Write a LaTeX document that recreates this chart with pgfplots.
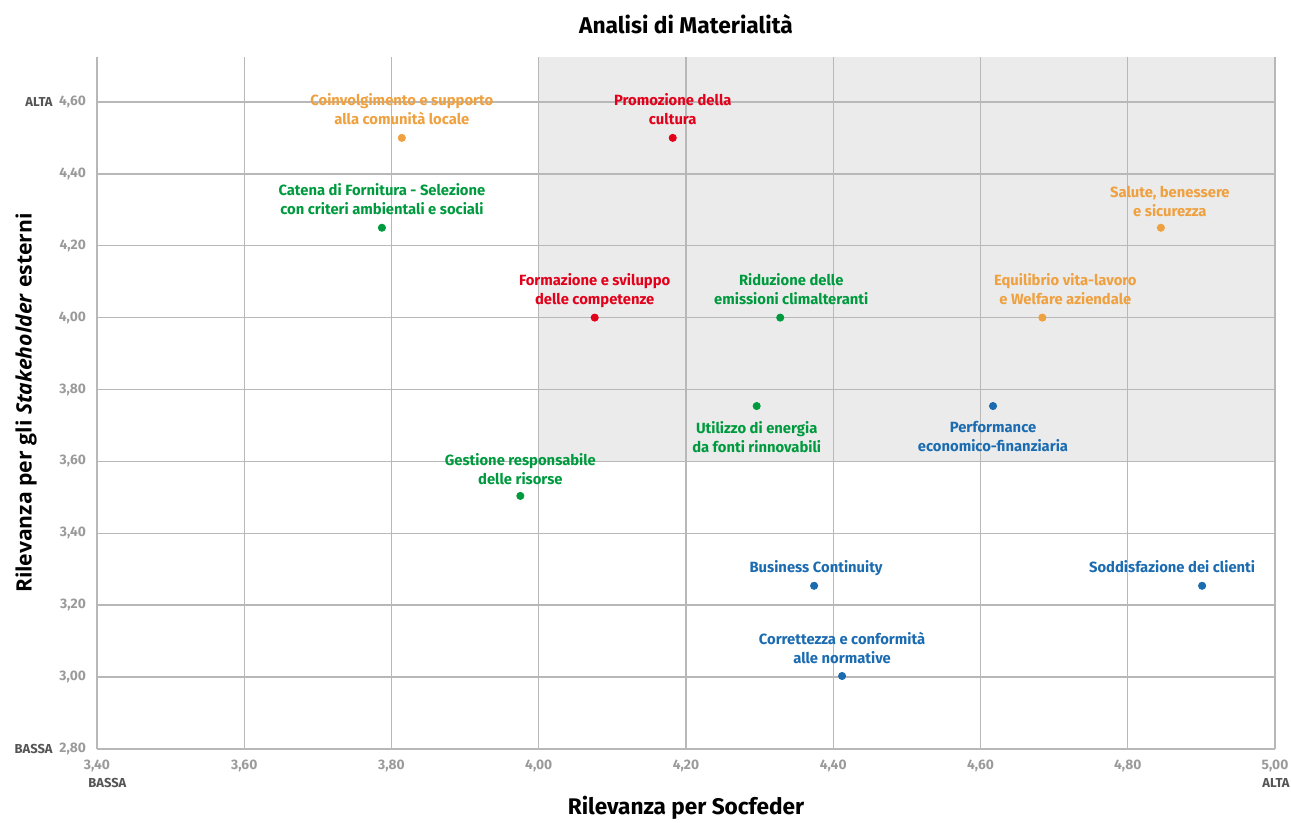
\documentclass[border=0pt]{standalone}
\usepackage{pgfplots}
\pgfplotsset{compat=1.18}
\usepackage{fontspec}
\setmainfont{Fira Sans}
\newfontfamily\opensans{Open Sans}
\definecolor{cOr}{HTML}{EFA03F}
\definecolor{cRe}{HTML}{E2001A}
\definecolor{cGr}{HTML}{009A3E}
\definecolor{cBl}{HTML}{1B6BB0}
\definecolor{cTick}{HTML}{9A9A9A}
\definecolor{cGrid}{HTML}{B8B8B8}
\definecolor{cShade}{HTML}{EBEBEB}
\definecolor{cDark}{HTML}{555555}
\begin{document}
\begin{tikzpicture}
\begin{axis}[
  name=ax, set layers,
  scale only axis, width=589pt, height=346pt,
  xmin=3.4, xmax=5.0, ymin=2.8, ymax=4.725,
  xtick={3.4,3.6,...,5.01}, ytick={2.8,3.0,...,4.61},
  grid=major, major grid style={cGrid, line width=0.7pt},
  axis x line*=bottom, axis y line*=left,
  axis line style={cGrid, line width=0.7pt, -},
  tick style={draw=none},
  /pgf/number format/fixed, /pgf/number format/fixed zerofill,
  /pgf/number format/precision=2, /pgf/number format/use comma,
  /pgf/number format/assume math mode=true,
  ticklabel style={font=\fontsize{6.9}{8}\selectfont\bfseries, text=cTick},
  xticklabel style={yshift=-2pt},
  yticklabel style={xshift=-2pt},
  clip=false,
]
\addplot[fill=cShade, draw=none, on layer=axis background] coordinates {(4.0,3.6) (5.0,3.6) (5.0,4.725) (4.0,4.725)} -- cycle;
% orange
\addplot[only marks, mark=*, mark size=1.8pt, color=cOr] coordinates {(3.814,4.50) (4.845,4.25) (4.684,4.00)};
% red
\addplot[only marks, mark=*, mark size=1.8pt, color=cRe] coordinates {(4.182,4.50) (4.076,4.00)};
% green
\addplot[only marks, mark=*, mark size=1.8pt, color=cGr] coordinates {(3.787,4.25) (4.328,4.00) (4.296,3.754) (3.975,3.504)};
% blue
\addplot[only marks, mark=*, mark size=1.8pt, color=cBl] coordinates {(4.617,3.754) (4.374,3.254) (4.901,3.254) (4.412,3.003)};

\tikzset{lab/.style={font=\fontsize{7.4}{9.5}\selectfont\bfseries, align=center, inner sep=0pt, text depth=0pt, anchor=south, yshift=6.5pt},
         labb/.style={font=\fontsize{7.4}{9.5}\selectfont\bfseries, align=center, inner sep=0pt, anchor=north, yshift=-7.5pt}}
\node[lab, text=cOr] at (axis cs:3.814,4.50) {Coinvolgimento e supporto\\alla comunità locale};
\node[lab, text=cRe] at (axis cs:4.182,4.50) {Promozione della\\cultura};
\node[lab, text=cGr] at (axis cs:3.787,4.25) {Catena di Fornitura - Selezione\\con criteri ambientali e sociali};
\node[lab, text=cOr, xshift=4.5pt, yshift=-1pt] at (axis cs:4.845,4.25) {Salute, benessere\\e sicurezza};
\node[lab, text=cRe] at (axis cs:4.076,4.00) {Formazione e sviluppo\\delle competenze};
\node[lab, text=cGr, xshift=5.5pt] at (axis cs:4.328,4.00) {Riduzione delle\\emissioni climalteranti};
\node[lab, text=cOr, xshift=11.5pt] at (axis cs:4.684,4.00) {Equilibrio vita-lavoro\\e Welfare aziendale};
\node[labb, text=cGr] at (axis cs:4.296,3.754) {Utilizzo di energia\\da fonti rinnovabili};
\node[labb, text=cBl] at (axis cs:4.617,3.754) {Performance\\economico-finanziaria};
\node[lab, text=cGr, yshift=-1pt] at (axis cs:3.975,3.504) {Gestione responsabile\\delle risorse};
\node[lab, text=cBl, xshift=1pt] at (axis cs:4.374,3.254) {Business Continuity};
\node[lab, text=cBl, xshift=-15pt] at (axis cs:4.901,3.254) {Soddisfazione dei clienti};
\node[lab, text=cBl, yshift=-0.5pt] at (axis cs:4.412,3.003) {Correttezza e conformità\\alle normative};

\tikzset{hl/.style={font=\fontsize{6.5}{8}\selectfont\bfseries, text=cDark, inner sep=0pt}}
\node[hl, anchor=east, xshift=-22pt] at (axis cs:3.4,4.6) {ALTA};
\node[hl, anchor=east, xshift=-22pt] at (axis cs:3.4,2.8) {BASSA};
\node[hl, anchor=west, xshift=-4.5pt, yshift=-17pt] at (axis cs:3.4,2.8) {BASSA};
\node[hl, anchor=east, xshift=7.5pt, yshift=-17pt] at (axis cs:5.0,2.8) {ALTA};

\node[font=\fontsize{11.4}{13}\selectfont\bfseries] at (rel axis cs:0.5,1) [yshift=16.5pt] {Analisi di Materialità};
\node[font=\fontsize{11.3}{13}\selectfont\bfseries] at (rel axis cs:0.5,0) [yshift=-29.5pt] {Rilevanza per Socfeder};
\node[font=\opensans\fontsize{10.6}{12}\selectfont\bfseries, xshift=-35.5pt, rotate=90] at (rel axis cs:0,0.5) {Rilevanza per gli \textit{Stakeholder} esterni};
\end{axis}
\pgfresetboundingbox
\path ([xshift=-48.5pt,yshift=-37pt]ax.south west) rectangle ([xshift=8pt,yshift=28.5pt]ax.north east);
\end{tikzpicture}
\end{document}
